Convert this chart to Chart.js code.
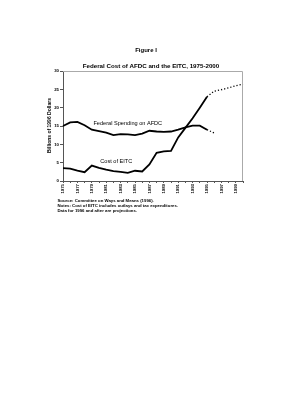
<!DOCTYPE html>
<html><head><meta charset="utf-8">
<script src="https://cdn.jsdelivr.net/npm/chart.js@4"></script>
<style>html,body{margin:0;padding:0;background:#fff}canvas{display:block}</style>
</head><body>
<canvas id="c" width="305" height="400"></canvas>
<script>
const years = ["1975","1976","1977","1978","1979","1980","1981","1982","1983","1984","1985","1986","1987","1988","1989","1990","1991","1992","1993","1994","1995","1996","1997","1998","1999","2000"];
const afdc = [15.0,16.0,16.1,15.2,14.0,13.6,13.2,12.5,12.8,12.7,12.5,12.9,13.7,13.5,13.4,13.5,14.0,14.6,15.1,15.1,14.0,13.1,null,null,null,null];
const eitc = [3.5,3.4,2.8,2.4,4.2,3.6,3.1,2.7,2.5,2.2,2.8,2.6,4.5,7.7,8.1,8.2,11.9,14.5,17.1,20.0,23.0,24.5,24.9,25.4,26.0,26.4];
const projectionStart = 20; // index of 1995, segments after are projections
const yTicks = [0,5,10,15,20,25,30];

const FONT = "'Liberation Sans', Arial, sans-serif";
const dashSeg = {borderDash: ctx => ctx.p0DataIndex >= projectionStart ? [1.2,2] : undefined,
                 borderWidth: ctx => ctx.p0DataIndex >= projectionStart ? 1.3 : 1.8};

const textPlugin = {
  id: 'texts',
  afterDraw(chart) {
    const {ctx, chartArea: a, scales} = chart;
    ctx.save();
    ctx.strokeStyle = '#aaa'; ctx.lineWidth = 1;
    ctx.beginPath();
    ctx.moveTo(a.left, a.top + 0.5); ctx.lineTo(a.right - 0.5, a.top + 0.5); ctx.lineTo(a.right - 0.5, a.bottom);
    ctx.stroke();
    ctx.fillStyle = '#000';
    ctx.textAlign = 'center'; ctx.textBaseline = 'middle';
    ctx.font = 'bold 6px ' + FONT;
    ctx.fillText('Figure I', 146, 50);
    ctx.font = 'bold 6.2px ' + FONT;
    ctx.fillText('Federal Cost of AFDC and the EITC, 1975-2000', 151, 66.5);
    ctx.save();
    ctx.translate(50, 125.5); ctx.rotate(-Math.PI/2);
    ctx.font = 'bold 5px ' + FONT;
    ctx.fillText('Billions of 1996 Dollars', 0, 0);
    ctx.restore();
    const x = scales.x, y = scales.y;
    ctx.font = '5.6px ' + FONT;
    ctx.fillText('Federal Spending on AFDC', x.getPixelForValue(9.0), y.getPixelForValue(15.8));
    ctx.fillText('Cost of EITC', x.getPixelForValue(7.4), y.getPixelForValue(5.3));
    ctx.textAlign = 'left';
    ctx.font = 'bold 4.3px ' + FONT;
    ctx.fillText('Source: Committee on Ways and Means (1996).', 57.5, 201.3);
    ctx.fillText('Notes: Cost of EITC includes outlays and tax expenditures.', 57.5, 206.2);
    ctx.fillText('Data for 1996 and after are projections.', 57.5, 210.8);
    ctx.restore();
  }
};

new Chart(document.getElementById('c'), {
  type: 'line',
  data: {
    labels: years,
    datasets: [
      {label: 'Federal Spending on AFDC', data: afdc, borderColor: '#000', borderWidth: 1.8, pointRadius: 0, tension: 0, spanGaps: false, segment: dashSeg},
      {label: 'Cost of EITC', data: eitc, borderColor: '#000', borderWidth: 1.8, pointRadius: 0, tension: 0, segment: dashSeg}
    ]
  },
  options: {
    responsive: false, animation: false, devicePixelRatio: 1,
    layout: {padding: {left: 47, right: 62, top: 71, bottom: 199}},
    plugins: {legend: {display: false}, tooltip: {enabled: false}, title: {display: false}},
    scales: {
      x: {
        offset: false,
        grid: {display: true, drawOnChartArea: false, tickLength: 2, color: '#555'},
        border: {display: true, color: '#555', width: 1},
        ticks: {autoSkip: false, maxRotation: 90, minRotation: 90, padding: 1, color: '#000',
                font: {family: FONT, size: 4.3, weight: 'bold'},
                callback: (v, i) => i % 2 === 0 ? years[i] : ''},
        afterFit: s => { s.height = 20; }
      },
      y: {
        min: 0, max: 30,
        afterBuildTicks: s => { s.ticks = yTicks.map(v => ({value: v})); },
        grid: {display: true, drawOnChartArea: false, tickLength: 3, color: '#555'},
        border: {display: true, color: '#555', width: 1},
        ticks: {padding: 1, color: '#000', font: {family: FONT, size: 4.3, weight: 'bold'}},
        afterFit: s => { s.width = 16; }
      }
    }
  },
  plugins: [textPlugin]
});
</script>
</body></html>
